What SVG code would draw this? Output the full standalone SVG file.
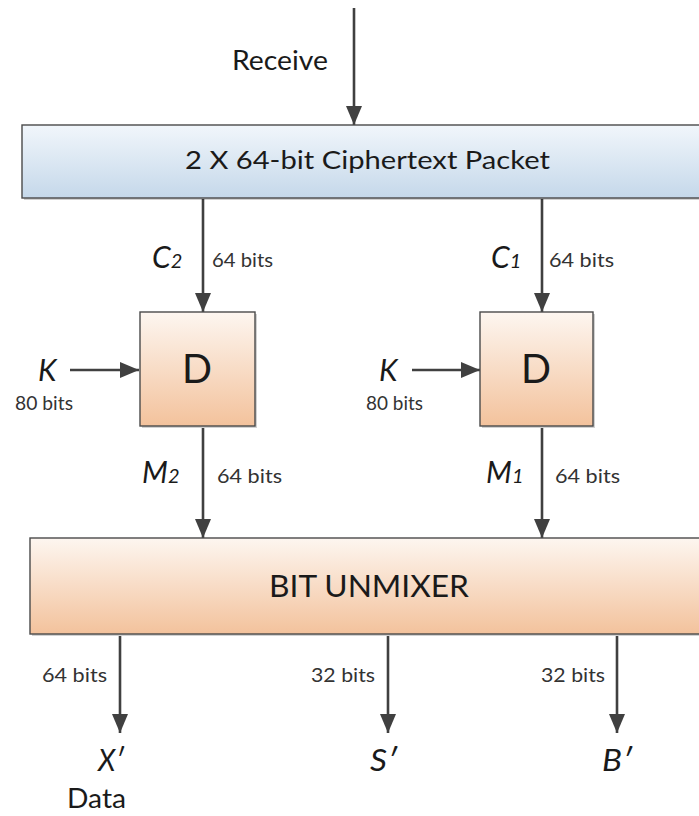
<svg xmlns="http://www.w3.org/2000/svg" width="699" height="816" viewBox="0 0 699 816">
<defs>
  <linearGradient id="gBlue" x1="0" y1="0" x2="0" y2="1">
    <stop offset="0" stop-color="#f1f6fb"/>
    <stop offset="1" stop-color="#c5d8ea"/>
  </linearGradient>
  <linearGradient id="gOrange" x1="0" y1="0" x2="0" y2="1">
    <stop offset="0" stop-color="#fdf6f0"/>
    <stop offset="1" stop-color="#f3c29c"/>
  </linearGradient>
  <marker id="arr" markerUnits="userSpaceOnUse" markerWidth="20" markerHeight="18" refX="19" refY="8" orient="auto">
    <path d="M0,0 L19,8 L0,16 Z" fill="#404040"/>
  </marker>
</defs>
<style>
  text { font-family: Lato, "Liberation Sans", Arial, sans-serif; fill: #1a1a1a; }
  .lbl { font-size: 26px; }
  .bits { font-size: 19px; fill: #333; }
  .it { font-style: italic; font-size: 30px; }
  .sub { font-size: 20px; }
  .box { stroke: #4a4a4a; stroke-width: 1.4; }
  .shadow { fill: #000; opacity: 0.18; }
  .conn { stroke: #404040; stroke-width: 2.6; fill: none; marker-end: url(#arr); }
</style>

<g id="connectors">
  <line class="conn" x1="354" y1="8" x2="354" y2="125"/>
  <line class="conn" x1="203" y1="199" x2="203" y2="312"/>
  <line class="conn" x1="542" y1="199" x2="542" y2="312"/>
  <line class="conn" x1="70" y1="370" x2="139" y2="370"/>
  <line class="conn" x1="412" y1="370" x2="480" y2="370"/>
  <line class="conn" x1="203" y1="428" x2="203" y2="538"/>
  <line class="conn" x1="542" y1="428" x2="542" y2="538"/>
  <line class="conn" x1="120" y1="636" x2="120" y2="733"/>
  <line class="conn" x1="388" y1="636" x2="388" y2="733"/>
  <line class="conn" x1="617" y1="636" x2="617" y2="733"/>
</g>

<g id="receive-label">
  <text class="lbl" x="232" y="70" textLength="96" lengthAdjust="spacingAndGlyphs">Receive</text>
</g>

<g id="packet">
  <rect class="shadow" x="24" y="127" width="690" height="73"/>
  <rect class="box" x="22" y="125" width="690" height="73" fill="url(#gBlue)"/>
  <text x="185" y="169" font-size="25" textLength="365" lengthAdjust="spacingAndGlyphs">2 X 64-bit Ciphertext Packet</text>
</g>

<g id="c2-label">
  <text class="it" x="152" y="268">C<tspan class="sub">2</tspan></text>
  <text class="bits" x="212" y="267" textLength="61" lengthAdjust="spacingAndGlyphs">64 bits</text>
</g>
<g id="c1-label">
  <text class="it" x="491" y="268">C<tspan class="sub">1</tspan></text>
  <text class="bits" x="549" y="267" textLength="65" lengthAdjust="spacingAndGlyphs">64 bits</text>
</g>

<g id="decrypt-left">
  <rect class="shadow" x="142" y="314" width="115" height="114"/>
  <rect class="box" x="140" y="312" width="115" height="114" fill="url(#gOrange)"/>
  <text x="197" y="383" font-size="40" text-anchor="middle" textLength="30" lengthAdjust="spacingAndGlyphs">D</text>
</g>
<g id="decrypt-right">
  <rect class="shadow" x="482" y="314" width="113" height="114"/>
  <rect class="box" x="480" y="312" width="113" height="114" fill="url(#gOrange)"/>
  <text x="536" y="383" font-size="40" text-anchor="middle" textLength="30" lengthAdjust="spacingAndGlyphs">D</text>
</g>

<g id="key-left">
  <text class="it" x="38" y="381">K</text>
  <text class="bits" x="15" y="410" font-size="18" textLength="58" lengthAdjust="spacingAndGlyphs">80 bits</text>
</g>
<g id="key-right">
  <text class="it" x="379" y="381">K</text>
  <text class="bits" x="366" y="410" font-size="18" textLength="57" lengthAdjust="spacingAndGlyphs">80 bits</text>
</g>

<g id="m2-label">
  <text class="it" x="142" y="483">M<tspan class="sub">2</tspan></text>
  <text class="bits" x="217" y="483" textLength="65" lengthAdjust="spacingAndGlyphs">64 bits</text>
</g>
<g id="m1-label">
  <text class="it" x="486" y="483">M<tspan class="sub">1</tspan></text>
  <text class="bits" x="555" y="483" textLength="65" lengthAdjust="spacingAndGlyphs">64 bits</text>
</g>

<g id="unmixer">
  <rect class="shadow" x="32" y="540" width="690" height="96"/>
  <rect class="box" x="30" y="538" width="690" height="96" fill="url(#gOrange)"/>
  <text x="269" y="597" font-size="31" textLength="200" lengthAdjust="spacingAndGlyphs">BIT UNMIXER</text>
</g>

<g id="out-x">
  <text class="bits" x="42" y="682" font-size="18" textLength="65" lengthAdjust="spacingAndGlyphs">64 bits</text>
  <text class="it" x="98" y="771" textLength="26" lengthAdjust="spacingAndGlyphs">X′</text>
  <text class="lbl" x="67" y="808" font-size="25" textLength="59" lengthAdjust="spacingAndGlyphs">Data</text>
</g>
<g id="out-s">
  <text class="bits" x="311" y="682" font-size="18" textLength="64" lengthAdjust="spacingAndGlyphs">32 bits</text>
  <text class="it" x="370" y="771" textLength="27" lengthAdjust="spacingAndGlyphs">S′</text>
</g>
<g id="out-b">
  <text class="bits" x="541" y="682" font-size="18" textLength="64" lengthAdjust="spacingAndGlyphs">32 bits</text>
  <text class="it" x="602" y="771" textLength="30" lengthAdjust="spacingAndGlyphs">B′</text>
</g>
</svg>
